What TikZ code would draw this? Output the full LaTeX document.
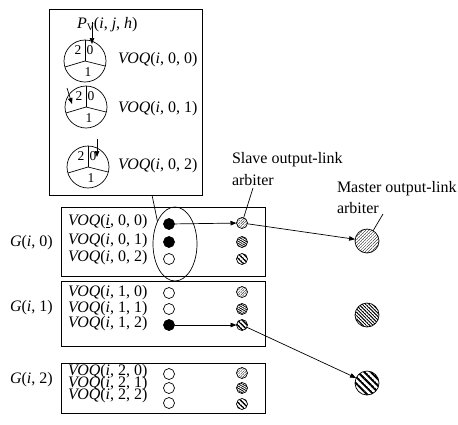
\documentclass[tikz,border=0pt]{standalone}
\usepackage{fontspec}
\setmainfont{Liberation Serif}
\usetikzlibrary{arrows.meta,shapes.geometric,patterns.meta}

\tikzdeclarepattern{
  name=hatch,
  parameters={
    \pgfkeysvalueof{/pgf/pattern keys/size},
    \pgfkeysvalueof{/pgf/pattern keys/angle},
    \pgfkeysvalueof{/pgf/pattern keys/line width},
  },
  bounding box={
    (0,-0.5*\pgfkeysvalueof{/pgf/pattern keys/line width}) and
    (\pgfkeysvalueof{/pgf/pattern keys/size},
     0.5*\pgfkeysvalueof{/pgf/pattern keys/line width})},
  tile size={(\pgfkeysvalueof{/pgf/pattern keys/size},
              \pgfkeysvalueof{/pgf/pattern keys/size})},
  tile transformation={rotate=\pgfkeysvalueof{/pgf/pattern keys/angle}},
  defaults={
    size/.initial=5pt,
    angle/.initial=45,
    line width/.initial=.4pt,
  },
  code={
    \draw[line width=\pgfkeysvalueof{/pgf/pattern keys/line width}]
      (0,0) -- (\pgfkeysvalueof{/pgf/pattern keys/size},0);
  },
}

\begin{document}
\begin{tikzpicture}[x=1pt,y=-1pt,
  every node/.style={inner sep=0pt, outer sep=0pt},
  lbl/.style={font=\fontsize{16}{18}\selectfont, anchor=west},
  dig/.style={font=\fontsize{13.5}{14}\selectfont},
  gframe/.style={draw, line width=0.8pt, anchor=north west},
  wheel/.style={draw, circle, line width=0.7pt, minimum size=42pt},
  dotbase/.style={draw, circle, line width=0.7pt, minimum size=11pt},
  dotfull/.style={dotbase, fill=black},
  dotopen/.style={dotbase, fill=white},
  slA/.style={dotbase, pattern={hatch[size=1.8pt, angle=45, line width=0.45pt]}, pattern color=black!75},
  slB/.style={dotbase, pattern={hatch[size=1.9pt, angle=-30, line width=0.8pt]}},
  slC/.style={dotbase, pattern={hatch[size=3.4pt, angle=-45, line width=1.4pt]}},
  maA/.style={draw, circle, line width=0.7pt, minimum size=24pt, pattern={hatch[size=2.1pt, angle=45, line width=0.5pt]}, pattern color=black!75},
  maB/.style={draw, circle, line width=0.7pt, minimum size=24pt, pattern={hatch[size=2.4pt, angle=-45, line width=1pt]}},
  maC/.style={draw, circle, line width=0.7pt, minimum size=24pt, pattern={hatch[size=4.6pt, angle=-45, line width=2pt]}},
  arr/.style={-{Triangle[length=6pt,width=4.5pt]}, line width=0.7pt},
  thinline/.style={line width=0.7pt}]

\useasboundingbox (0,0) rectangle (458,424);

% ---------- top box with pointer wheels ----------
\node[gframe, minimum width=153pt, minimum height=186pt] (topbox) at (49,9) {};

\node[lbl] (pv) at (77,25) {\textit{P}\raisebox{-2pt}{\fontsize{10}{10}\selectfont V}(\textit{i}, \textit{j}, \textit{h})};

\node[wheel] (c1) at (85,61) {};
\node[wheel] (c2) at (86,107) {};
\node[wheel] (c3) at (88,167) {};
\foreach \c in {c1,c2,c3}{
  \draw[thinline] (\c.north) -- (\c.center);
  \draw[thinline] (\c.center) -- ++(-20,6);
  \draw[thinline] (\c.center) -- ++(20,5);
}
\node[dig] (c1t) at (78,50) {2};
\node[dig] (c1z) at (90,50) {0};
\node[dig] (c1o) at (88,72) {1};
\node[dig] (c2t) at (79,96) {2};
\node[dig] (c2z) at (91,96) {0};
\node[dig] (c2o) at (89,118) {1};
\node[dig] (c3t) at (81,156) {2};
\node[dig] (c3z) at (93,156) {0};
\node[dig] (c3o) at (91,178) {1};

\node[lbl] (tv0) at (118,60) {\textit{VOQ}(\textit{i}, 0, 0)};
\node[lbl] (tv1) at (118,109) {\textit{VOQ}(\textit{i}, 0, 1)};
\node[lbl] (tv2) at (118,166) {\textit{VOQ}(\textit{i}, 0, 2)};

\coordinate (a1s) at (92,22);  \coordinate (a1e) at (92,44);
\coordinate (a2s) at (67,88);  \coordinate (a2e) at (72,104);
\coordinate (a3s) at (97,139); \coordinate (a3e) at (97,157);
\draw[arr] (a1s) -- (a1e);
\draw[arr] (a2s) -- (a2e);
\draw[arr] (a3s) -- (a3e);

% ---------- group boxes ----------
\node[gframe, minimum width=204pt, minimum height=69pt] (g0) at (61,207) {};
\node[gframe, minimum width=204pt, minimum height=65pt] (g1) at (61,281) {};
\node[gframe, minimum width=204pt, minimum height=50pt] (g2) at (61,363) {};

\node[lbl] (gl0) at (10,243) {\textit{G}(\textit{i}, 0)};
\node[lbl] (gl1) at (10,308) {\textit{G}(\textit{i}, 1)};
\node[lbl] (gl2) at (10,380) {\textit{G}(\textit{i}, 2)};

\node[lbl] (v00) at (68,222) {\textit{VOQ}(\underline{\textit{i}}, 0, 0)};
\node[lbl] (v01) at (68,241) {\textit{VOQ}(\textit{i}, 0, 1)};
\node[lbl] (v02) at (68,258) {\textit{VOQ}(\textit{i}, 0, 2)};
\node[lbl] (v10) at (68,293) {\textit{VOQ}(\textit{i}, 1, 0)};
\node[lbl] (v11) at (68,309) {\textit{VOQ}(\textit{i}, 1, 1)};
\node[lbl] (v12) at (68,324) {\textit{VOQ}(\textit{i}, 1, 2)};
\node[lbl] (v20) at (68,372) {\textit{VOQ}(\textit{i}, 2, 0)};
\node[lbl] (v21) at (68,384) {\textit{VOQ}(\textit{i}, 2, 1)};
\node[lbl] (v22) at (68,396) {\textit{VOQ}(\textit{i}, 2, 2)};

% VOQ dots
\node[dotfull] (d00) at (169,224) {};
\node[dotfull] (d01) at (169,242) {};
\node[dotopen] (d02) at (169,259) {};
\node[dotopen] (d10) at (169,293) {};
\node[dotopen] (d11) at (169,309) {};
\node[dotfull] (d12) at (169,325) {};
\node[dotopen] (d20) at (169,374) {};
\node[dotopen] (d21) at (169,388) {};
\node[dotopen] (d22) at (169,403) {};

% slave arbiters
\node[slA] (s00) at (242,223) {};
\node[slB] (s01) at (242,242) {};
\node[slC] (s02) at (242,259) {};
\node[slA] (s10) at (242,292) {};
\node[slB] (s11) at (242,309) {};
\node[slC] (s12) at (242,325) {};
\node[slA] (s20) at (242,373) {};
\node[slB] (s21) at (242,388) {};
\node[slC] (s22) at (242,404) {};

% master arbiters
\node[maA] (m0) at (367,241) {};
\node[maB] (m1) at (367,315) {};
\node[maC] (m2) at (367,383) {};

% ellipse
\node[draw, ellipse, line width=0.7pt, minimum width=44pt, minimum height=74pt] (ell) at (175,244) {};
\coordinate (tb) at (152,195);
\draw[thinline] (tb) -- (ell.128);

% connectors
\draw[arr] (d00) -- (s00);
\draw[arr] (d12) -- (s12);
\draw[arr] (s00) -- (m0);
\draw[arr] (s12) -- (m2);

% labels
\node[lbl] (sl1) at (232,160) {Slave output-link};
\node[lbl] (sl2) at (232,180) {arbiter};
\node[lbl] (ml1) at (337,189) {Master output-link};
\node[lbl] (ml2) at (337,208) {arbiter};

\coordinate (slp) at (253,188);
\draw[thinline] (slp) -- (s00);
\coordinate (mlp) at (383,214);
\draw[thinline] (mlp) -- (m0);
\end{tikzpicture}
\end{document}
